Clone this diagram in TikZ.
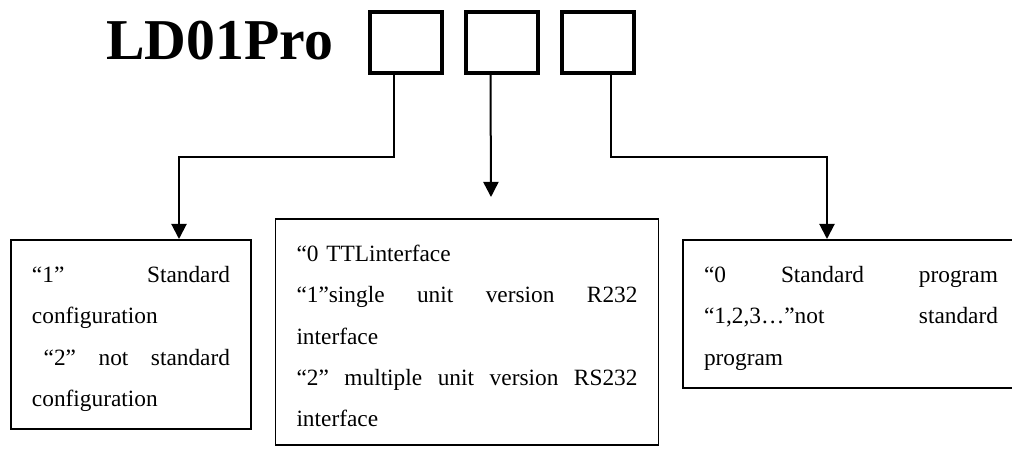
\documentclass[tikz,border=0pt]{standalone}
\usepackage{fontspec}
\setmainfont{Liberation Serif}
\usetikzlibrary{arrows.meta,positioning}

\begin{document}
\begin{tikzpicture}[x=0.45pt,y=0.45pt,
  digit/.style={draw,line width=1.8pt,minimum width=32.4pt,minimum height=27.45pt,inner sep=0pt},
  note/.style={draw,line width=0.8pt,anchor=north,align=left,inner xsep=9.45pt,inner ysep=8pt,
    font=\fontsize{10.5pt}{18.6pt}\selectfont},
  feed/.style={line width=0.9pt,-{Triangle[width=6.8pt,length=6.8pt]}}]
  \useasboundingbox (0,0) rectangle (1012,448);
  \clip (0,0) rectangle (1012,448);
  % model code and its three digits
  \node[anchor=base west,inner sep=0pt,font=\fontsize{26pt}{30pt}\selectfont\bfseries] (model) at (106,389) {LD01Pro};
  \node[digit] (digA) at (406,405.5) {};
  \node[digit,right=9pt of digA] (digB) {};
  \node[digit,right=9pt of digB] (digC) {};
  % meaning of each digit
  \node[note,text width=89.1pt] (cfgA) at (131,209)
    {\rule{0pt}{11.1pt}“1”\hfill Standard\\configuration\\\hspace*{0.5em}“2”\hfill not\hfill standard\\configuration};
  \node[note,text width=153.45pt] (ifcB) at (467,230)
    {\rule{0pt}{11.1pt}“0 TTLinterface\\“1”single\hfill unit\hfill version\hfill R232\\interface\\“2”\hfill multiple\hfill unit\hfill version\hfill RS232\\interface};
  \node[note,text width=132.3pt] (prgC) at (851,209)
    {\rule{0pt}{11.1pt}“0\hfill Standard\hfill program\\“1,2,3…”not\hfill standard\\program};
  \draw[feed] ([shift={(-12,0)}]digA.south) -- ++(0,-82) -| ([shift={(48,0)}]cfgA.north);
  \draw[feed] ([shift={(-11.5,0)}]digB.south) -- ([shift={(24,21)}]ifcB.north);
  \draw[feed] ([shift={(12.5,0)}]digC.south) -- ++(0,-82) -| ([shift={(-24,0)}]prgC.north);
\end{tikzpicture}
\end{document}
